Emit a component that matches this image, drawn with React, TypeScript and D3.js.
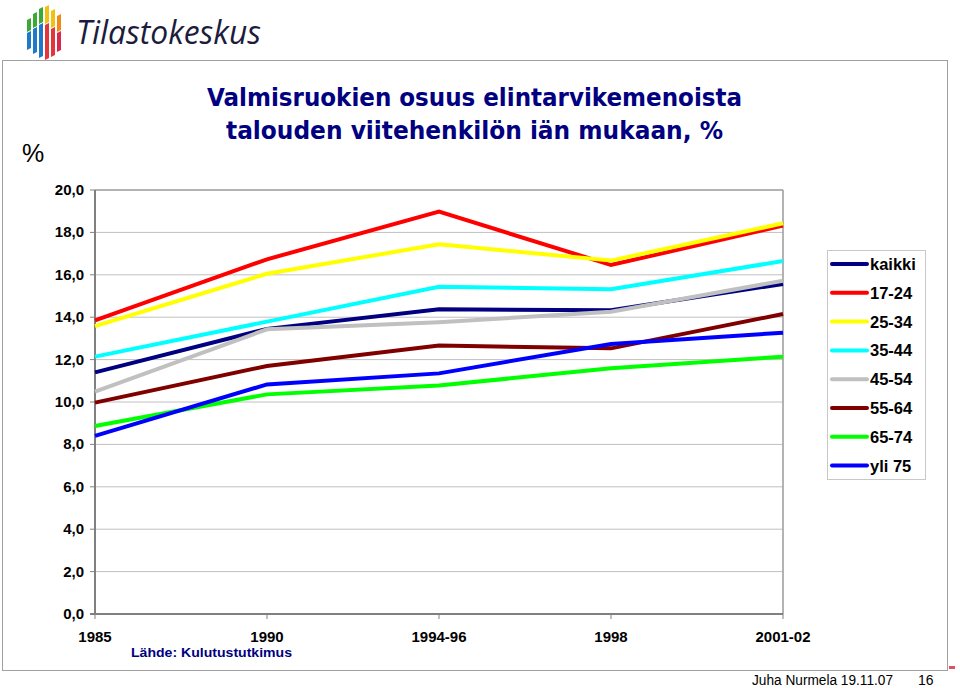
import React from "react";
import * as d3 from "d3";

const categories = ["1985", "1990", "1994-96", "1998", "2001-02"];
const seriesNames = ["kaikki", "17-24", "25-34", "35-44", "45-54", "55-64", "65-74", "yli 75"];
const seriesColors = ["#000080", "#ff0000", "#ffff00", "#00ffff", "#c0c0c0", "#800000", "#00ff00", "#0000ff"];
const kaikki = [11.4, 13.45, 14.37, 14.33, 15.57];
const age17_24 = [13.85, 16.73, 18.98, 16.46, 18.32];
const age25_34 = [13.58, 16.05, 17.44, 16.67, 18.43];
const age35_44 = [12.14, 13.79, 15.44, 15.32, 16.65];
const age45_54 = [10.49, 13.43, 13.76, 14.26, 15.72];
const age55_64 = [9.97, 11.7, 12.66, 12.53, 14.15];
const age65_74 = [8.87, 10.36, 10.78, 11.59, 12.14];
const yli75 = [8.4, 10.83, 11.35, 12.74, 13.27];
const seriesValues = [kaikki, age17_24, age25_34, age35_44, age45_54, age55_64, age65_74, yli75];
const yTicks = [0, 2, 4, 6, 8, 10, 12, 14, 16, 18, 20];

const W = 960;
const H = 688;
const plot = { left: 95, right: 783, top: 190, bottom: 614 };

export default function App() {
  React.useEffect(() => {
    document.body.style.margin = "0";
  }, []);
  const x = d3.scalePoint<string>().domain(categories).range([plot.left, plot.right]).padding(0);
  const y = d3.scaleLinear().domain([0, 20]).range([plot.bottom, plot.top]);
  const line = d3
    .line<number>()
    .x((_, i) => x(categories[i]) as number)
    .y((d) => y(d));
  const fmt = (v: number) => v.toFixed(1).replace(".", ",");
  const tickFont = "'Liberation Sans', Arial, sans-serif";

  // logo bars
  const logoBars = [
    { x: 27, top: 18, mid: 30, bot: 48, c1: "#3aa935", c2: "#1f78c8" },
    { x: 33, top: 12, mid: 26, bot: 52, c1: "#3aa935", c2: "#1f78c8" },
    { x: 39, top: 7, mid: 22, bot: 56, c1: "#3aa935", c2: "#1f78c8" },
    { x: 45, top: 5, mid: 22, bot: 58, c1: "#f2c010", c2: "#e3363b" },
    { x: 51, top: 9, mid: 26, bot: 55, c1: "#f2c010", c2: "#e3363b" },
    { x: 57, top: 14, mid: 30, bot: 50, c1: "#ef8a1a", c2: "#d9284a" },
  ];

  return (
    <svg width={W} height={H} style={{ position: "absolute", left: 0, top: 0, background: "#fff" }}>
      {/* logo */}
      <g>
        {logoBars.map((b, i) => (
          <g key={i}>
            <polygon
              points={`${b.x},${b.top + 2} ${b.x + 4},${b.top} ${b.x + 4},${b.mid} ${b.x},${b.mid + 2}`}
              fill={b.c1}
            />
            <polygon
              points={`${b.x},${b.mid + 3} ${b.x + 4},${b.mid + 1} ${b.x + 4},${b.bot} ${b.x},${b.bot + 2}`}
              fill={b.c2}
            />
          </g>
        ))}
        <text
          x={76}
          y={44}
          fontFamily="'Open Sans', 'DejaVu Sans', sans-serif"
          fontSize={32}
          fill="#1c1c3c"
          textLength={185}
          lengthAdjust="spacingAndGlyphs"
          fontStyle="italic"
        >
          Tilastokeskus
        </text>
      </g>

      {/* outer frame */}
      <rect x={2.5} y={60.5} width={945} height={610} fill="none" stroke="#a0a0a0" strokeWidth={1} />
      <rect x={949} y={666} width={6} height={3} fill="#e05060" />

      {/* title */}
      <g fontFamily="'DejaVu Sans', Verdana, sans-serif" fontWeight="bold" fill="#000080" fontSize={24}>
        <text x={207} y={106} textLength={535} lengthAdjust="spacingAndGlyphs">
          Valmisruokien osuus elintarvikemenoista
        </text>
        <text x={226} y={139} textLength={497} lengthAdjust="spacingAndGlyphs">
          talouden viitehenkilön iän mukaan, %
        </text>
      </g>
      <text x={22} y={162} fontFamily={tickFont} fontSize={25} fill="#000">
        %
      </text>

      {/* grid */}
      {yTicks.map((t) => (
        <g key={t}>
          {t > 0 && t < 20 && (
            <line x1={plot.left} x2={plot.right} y1={y(t)} y2={y(t)} stroke="#c0c0c0" strokeWidth={1} />
          )}
          <line x1={plot.left - 5} x2={plot.left} y1={y(t)} y2={y(t)} stroke="#808080" strokeWidth={1} />
          <text
            x={84}
            y={y(t) + 5}
            textAnchor="end"
            fontFamily={tickFont}
            fontWeight="bold"
            fontSize={15}
            fill="#000"
          >
            {fmt(t)}
          </text>
        </g>
      ))}
      {/* plot frame */}
      <line x1={plot.left} x2={plot.right} y1={plot.top} y2={plot.top} stroke="#9a9a9a" strokeWidth={1.5} />
      <line x1={plot.right} x2={plot.right} y1={plot.top} y2={plot.bottom} stroke="#9a9a9a" strokeWidth={1.5} />
      <line x1={plot.left} x2={plot.left} y1={plot.top} y2={plot.bottom} stroke="#808080" strokeWidth={2} />
      <line x1={plot.left - 5} x2={plot.right} y1={plot.bottom} y2={plot.bottom} stroke="#808080" strokeWidth={2} />
      {categories.map((c) => (
        <g key={c}>
          <line x1={x(c)} x2={x(c)} y1={plot.bottom} y2={plot.bottom + 5} stroke="#808080" strokeWidth={1} />
          <text
            x={x(c)}
            y={642}
            textAnchor="middle"
            fontFamily={tickFont}
            fontWeight="bold"
            fontSize={15}
            fill="#000"
          >
            {c}
          </text>
        </g>
      ))}

      {/* series lines */}
      {seriesValues.map((vals, i) => (
        <path
          key={seriesNames[i]}
          d={line(vals) || ""}
          fill="none"
          stroke={seriesColors[i]}
          strokeWidth={4}
          strokeLinejoin="miter"
        />
      ))}

      {/* legend */}
      <rect x={827.5} y={250.5} width={98} height={229} fill="#fff" stroke="#c8c8c8" strokeWidth={1} />
      {seriesNames.map((n, i) => {
        const ly = 264 + i * 28.8;
        return (
          <g key={n}>
            <line x1={832} x2={867} y1={ly} y2={ly} stroke={seriesColors[i]} strokeWidth={4} strokeLinecap="round" />
            <text
              x={870}
              y={ly + 6}
              fontFamily={tickFont}
              fontWeight="bold"
              fontSize={16.5}
              fill="#000"
            >
              {n}
            </text>
          </g>
        );
      })}

      {/* source */}
      <text x={131} y={657} fontFamily={tickFont} fontWeight="bold" fontSize={13} fill="#000080" textLength={161} lengthAdjust="spacingAndGlyphs">
        Lähde: Kulutustutkimus
      </text>

      {/* footer */}
      <text x={752} y={685} fontFamily={tickFont} fontSize={14} fill="#000" textLength={141} lengthAdjust="spacingAndGlyphs">
        Juha Nurmela 19.11.07
      </text>
      <text x={918} y={685} fontFamily={tickFont} fontSize={14} fill="#000">
        16
      </text>
    </svg>
  );
}
